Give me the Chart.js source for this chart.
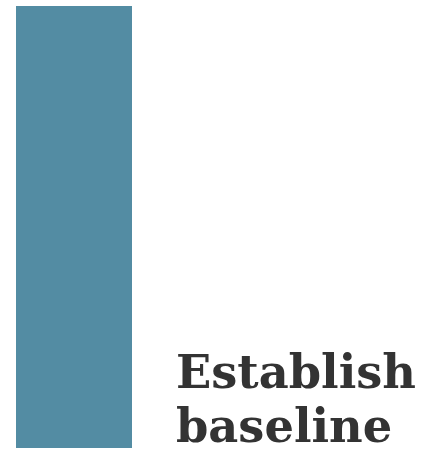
<!DOCTYPE html>
<html>
<head>
<meta charset="utf-8">
<script src="https://cdn.jsdelivr.net/npm/chart.js@4/dist/chart.umd.min.js"></script>
<style>
  html, body { margin: 0; padding: 0; background: #fff; }
  #wrap { position: relative; width: 428px; height: 451px; }
</style>
</head>
<body>
<div id="wrap"><canvas id="myChart" width="428" height="451"></canvas></div>
<script>
// data
var categories = ['Establish baseline']
var values = [100]
var labelLines = ['Establish', 'baseline']

// draws the category name next to the bar, bottom aligned
var sideLabel = {
    id: 'sideLabel',
    afterDatasetsDraw: function (chart) {
        var ctx = chart.ctx
        var bar = chart.getDatasetMeta(0).data[0]
        ctx.save()
        ctx.fillStyle = '#333333'
        ctx.font = 'bold 47px "DejaVu Serif"'
        ctx.textBaseline = 'alphabetic'
        var x = bar.x + bar.width / 2 + 44
        // the reference face is a bit narrower than DejaVu, squeeze to fit
        var sx = 240 / ctx.measureText(labelLines[0]).width
        var lineH = 54
        var y = bar.base - 6 - (labelLines.length - 1) * lineH
        ctx.translate(x, 0)
        ctx.scale(sx, 1)
        labelLines.forEach(function (line, i) {
            ctx.fillText(line, 0, y + i * lineH)
        })
        ctx.restore()
    }
}

var ctx = document.getElementById('myChart').getContext('2d');
var myChart = new Chart(ctx, {
    type: 'bar',
    data: {
        labels: categories,
        datasets: [{
            data: values,
            backgroundColor: '#538ca3',
            borderWidth: 0,
            barPercentage: 1,
            categoryPercentage: 1
        }]
    },
    options: {
        responsive: false,
        animation: false,
        layout: { padding: { left: 16, right: 296, top: 6, bottom: 3 } },
        plugins: { legend: { display: false }, tooltip: { enabled: false } },
        scales: {
            x: { display: false },
            y: { display: false, min: 0, max: 100 }
        }
    },
    plugins: [sideLabel]
});
</script>
</body>
</html>
